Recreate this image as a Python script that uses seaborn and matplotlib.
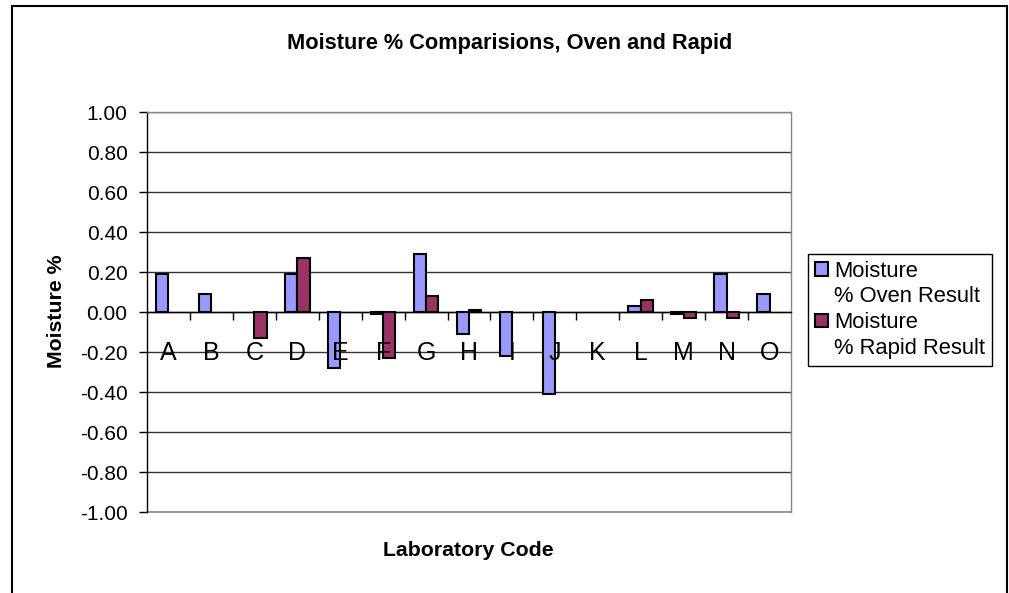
import numpy as np
import pandas as pd
import matplotlib.pyplot as plt
import seaborn as sns
from matplotlib.patches import Rectangle

# === Data ===
labs = list("ABCDEFGHIJKLMNO")
oven = [0.19, 0.09, np.nan, 0.19, -0.28, -0.01, 0.29, -0.11, -0.22, -0.41,
        np.nan, 0.03, -0.01, 0.19, 0.09]
rapid = [np.nan, np.nan, -0.13, 0.27, np.nan, -0.23, 0.08, 0.01, np.nan, np.nan,
         np.nan, 0.06, -0.03, -0.03, np.nan]
series = ["Moisture\n% Oven Result", "Moisture\n% Rapid Result"]
colors = ["#9999FF", "#993366"]
yticks = [-1.0, -0.8, -0.6, -0.4, -0.2, 0.0, 0.2, 0.4, 0.6, 0.8, 1.0]

df = pd.DataFrame({
    "Lab": labs * 2,
    "Series": [series[0]] * len(labs) + [series[1]] * len(labs),
    "Value": oven + rapid,
})

# === Plot setup ===
sns.set_theme(style="white")
plt.rcParams["font.family"] = ["Liberation Sans", "DejaVu Sans"]
for k in ["text.color", "axes.labelcolor", "xtick.color", "ytick.color"]:
    plt.rcParams[k] = "black"

W, H = 1009, 593
fig = plt.figure(figsize=(W / 100, H / 100), dpi=100)
ax = fig.add_axes([147 / W, 1 - 512 / H, 644 / W, 400 / H])

sns.barplot(data=df, x="Lab", y="Value", hue="Series", order=labs,
            hue_order=series, palette=colors, width=0.573, errorbar=None,
            edgecolor="black", linewidth=1.5, saturation=1, ax=ax, zorder=3)

ax.set_xlim(-0.5, len(labs) - 0.5)
ax.set_ylim(-1, 1)
ax.set_yticks(yticks)
ax.set_yticklabels([f"{v:.2f}" for v in yticks], fontsize=15)
ax.yaxis.grid(True, color="#333333", linewidth=1)
ax.set_axisbelow(True)
# letters sit on top of the bars, gridlines stay behind
ax.xaxis.set_zorder(5)
ax.set_xlabel("")
ax.set_ylabel("")
ax.axhline(-1, color="#888888", linewidth=1.2, clip_on=False, zorder=1)

# category axis sits on zero, letters below it
ax.spines["bottom"].set_position(("data", 0))
ax.spines["bottom"].set_color("black")
ax.spines["left"].set_color("black")
ax.spines["top"].set_color("#888888")
ax.spines["right"].set_color("#888888")
for s in ax.spines.values():
    s.set_linewidth(1)
ax.set_xticks(range(len(labs)))
ax.set_xticklabels(labs, fontsize=18)
ax.set_xticks(np.arange(0.5, len(labs) - 0.5, 1), minor=True)
ax.tick_params(axis="x", which="major", length=0, pad=21)
ax.tick_params(axis="x", which="minor", length=6, width=1, color="black",
               direction="out", bottom=True)
ax.tick_params(axis="y", length=6, width=1, color="black", direction="out",
               left=True, pad=8)

# === Legend ===
h, _ = ax.get_legend_handles_labels()
blank = Rectangle((0, 0), 1, 1, fc="none", ec="none")
leg_h, leg_l = [], []
for hh, name in zip(h, series):
    first, second = name.split("\n")
    leg_h += [hh, blank]
    leg_l += [first, second]
ax.legend(leg_h, leg_l, loc="upper left", bbox_to_anchor=(808 / W, 1 - 254 / H),
          bbox_transform=fig.transFigure, fontsize=15.8, frameon=True,
          fancybox=False, edgecolor="black", framealpha=1,
          handlelength=0.6, handleheight=0.6, handletextpad=0.3,
          labelspacing=0.22, borderpad=0.3, borderaxespad=0)
ax.get_legend().get_frame().set_linewidth(1)

# === Titles ===
fig.text(510 / W, 1 - 44 / H, "Moisture % Comparisions, Oven and Rapid",
         ha="center", va="center", fontsize=15.7, fontweight="bold")
fig.text(468 / W, 1 - 550 / H, "Laboratory Code", ha="center", va="center",
         fontsize=15.3, fontweight="bold")
fig.text(57 / W, 1 - 311 / H, "Moisture %", ha="center", va="center",
         rotation=90, fontsize=15.3, fontweight="bold")

# chart area border
fig.patches.append(Rectangle((12 / W, -0.1), (1007 - 12) / W, 1.1 - 6 / H,
                             transform=fig.transFigure, fill=False,
                             edgecolor="black", linewidth=1.5))

plt.savefig("out.png", dpi=100)
plt.close()
